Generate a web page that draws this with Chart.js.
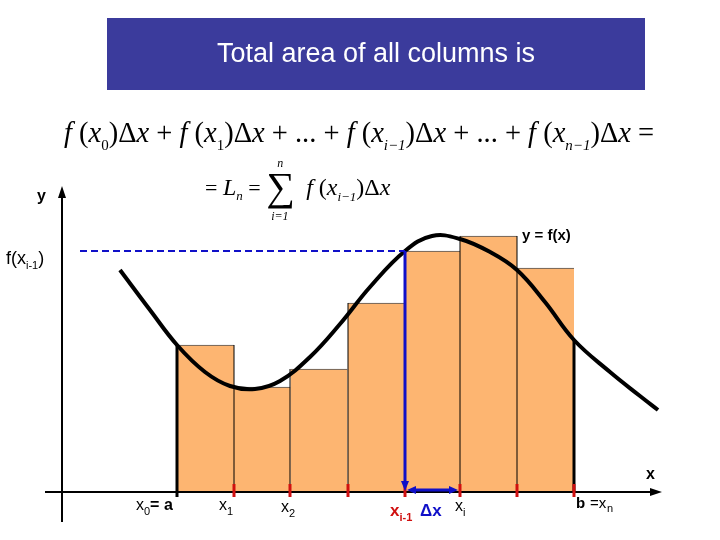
<!DOCTYPE html><html><head><style>html,body{margin:0;padding:0;background:#fff}#c{display:block}</style>
<script src="https://cdn.jsdelivr.net/npm/chart.js@4"></script></head><body>
<div style="width:720px;height:540px"><canvas id="c" width="720" height="540"></canvas></div>
<script>
// partition points x0..x7 (in horizontal units), bar heights f(x_{i-1})
const partition = [177, 234, 290, 348, 405, 460, 517, 574];
const barHeights = [147, 105, 123, 189, 241, 256, 224];
const curveX = [120, 150, 177, 205, 230, 255, 280, 310, 340, 370, 405, 432, 460, 490, 517, 545, 574, 610, 640, 658];
const curveY = [222, 182, 147, 120, 106, 103, 111, 135, 168, 205, 241, 256, 253, 240, 222, 190, 152, 120, 96, 82];
const BASE = 492;
const barData = barHeights.map((h,i)=>({x:(partition[i]+partition[i+1])/2,y:h}));
const curveData = curveX.map((x,i)=>({x:x,y:curveY[i]}));
const deco = {id:'deco',
 beforeDatasetsDraw(ch){const c=ch.ctx;
  c.save();c.fillStyle='#3b3b9c';c.fillRect(107,18,538,72);
  c.fillStyle='#fff';c.font='27px "Liberation Sans",Arial';c.textAlign='center';c.textBaseline='middle';
  c.fillText('Total area of all columns is',376,55);c.restore();
 },
 afterDatasetsDraw(ch){const c=ch.ctx,xs=ch.scales.x,ys=ch.scales.y;
  const X=v=>xs.getPixelForValue(v),Y=v=>ys.getPixelForValue(v);
  c.save();
  c.strokeStyle='#000';c.lineWidth=1;
  for(let i=1;i<partition.length-1;i++){c.beginPath();c.moveTo(X(partition[i]),Y(0));c.lineTo(X(partition[i]),Y(Math.max(barHeights[i-1],barHeights[i])));c.stroke();}
  c.lineWidth=3;
  c.beginPath();c.moveTo(X(partition[0]),Y(0)+5);c.lineTo(X(partition[0]),Y(barHeights[0]));c.stroke();
  c.beginPath();c.moveTo(X(partition[7]),Y(0));c.lineTo(X(partition[7]),Y(152));c.stroke();
  c.lineWidth=2;
  c.beginPath();c.moveTo(45,Y(0));c.lineTo(655,Y(0));c.stroke();
  c.beginPath();c.moveTo(62,522);c.lineTo(62,195);c.stroke();
  c.fillStyle='#000';
  c.beginPath();c.moveTo(662,Y(0));c.lineTo(650,Y(0)-4);c.lineTo(650,Y(0)+4);c.fill();
  c.beginPath();c.moveTo(62,186);c.lineTo(58,198);c.lineTo(66,198);c.fill();
  c.strokeStyle='#d01010';c.lineWidth=3;
  for(let i=1;i<partition.length;i++){c.beginPath();c.moveTo(X(partition[i]),Y(0)-8);c.lineTo(X(partition[i]),Y(0)+5);c.stroke();}
  const xi=X(partition[4]),fy=Y(barHeights[4]);
  c.strokeStyle='#1010c8';c.lineWidth=2;c.setLineDash([7,4]);
  c.beginPath();c.moveTo(80,fy);c.lineTo(xi,fy);c.stroke();c.setLineDash([]);
  c.lineWidth=3;c.beginPath();c.moveTo(xi,fy);c.lineTo(xi,Y(0)-8);c.stroke();
  c.fillStyle='#1010c8';c.beginPath();c.moveTo(xi,Y(0)-1);c.lineTo(xi-4,Y(0)-11);c.lineTo(xi+4,Y(0)-11);c.fill();
  c.beginPath();c.moveTo(xi+8,Y(0)-2);c.lineTo(X(partition[5])-8,Y(0)-2);c.stroke();
  c.beginPath();c.moveTo(xi+2,Y(0)-2);c.lineTo(xi+11,Y(0)-6);c.lineTo(xi+11,Y(0)+2);c.fill();
  const x5=X(partition[5]);c.beginPath();c.moveTo(x5-2,Y(0)-2);c.lineTo(x5-11,Y(0)-6);c.lineTo(x5-11,Y(0)+2);c.fill();
  c.fillStyle='#000';c.textBaseline='alphabetic';c.textAlign='left';
  c.font='bold 16px "Liberation Sans",Arial';
  c.fillText('y',37,201);c.fillText('x',646,479);
  c.font='bold 15px "Liberation Sans",Arial';c.fillText('y = f(x)',522,240);
  const sub=(main,s,x,y,bold,col,size,after)=>{c.fillStyle=col;c.font=(bold?'bold ':'')+(size||16)+'px "Liberation Sans",Arial';c.fillText(main,x,y);const w=c.measureText(main).width;c.font=(bold?'bold ':'')+'11px "Liberation Sans",Arial';c.fillText(s,x+w,y+5);let e=x+w+c.measureText(s).width;if(after){c.font=(bold?'bold ':'')+(size||16)+'px "Liberation Sans",Arial';c.fillText(after,e,y);}return e;};
  sub('f(x','i-1',6,264,false,'#000',18,')');
  let e=sub('x','0',136,510,false,'#000');c.font='bold 16px "Liberation Sans",Arial';c.fillText('= a',e,510);
  sub('x','1',219,510,false,'#000');sub('x','2',281,512,false,'#000');
  sub('x','i-1',390,516,true,'#d01010',17);
  c.fillStyle='#1010c8';c.font='bold 17px "Liberation Sans",Arial';c.fillText('\u0394x',420,516);
  sub('x','i',455,511,false,'#000');
  c.fillStyle='#000';c.font='bold 15px "Liberation Sans",Arial';c.fillText('b',576,508);
  c.font='15px "Liberation Sans",Arial';c.fillText('=x',590,508);c.font='11px "Liberation Sans",Arial';c.fillText('n',607,512);
  const T=(t,x,y,sz,it)=>{c.font=(it?'italic ':'')+sz+'px "Liberation Serif","Times New Roman",serif';c.fillText(t,x,y);return x+c.measureText(t).width;};
  let p=64;const L1=[['f',1],[' (',0],['x',1],['0',2],[')\u0394',0],['x',1],[' + ',0],['f',1],[' (',0],['x',1],['1',2],[')\u0394',0],['x',1],[' + ... + ',0],['f',1],[' (',0],['x',1],['i\u22121',3],[')\u0394',0],['x',1],[' + ... + ',0],['f',1],[' (',0],['x',1],['n\u22121',3],[')\u0394',0],['x',1],[' =',0]];
  for(const [t,k] of L1){if(k>=2)p=T(t,p,150,15,k==3);else p=T(t,p,142,28.5,k==1);}
  p=205;p=T('= ',p,195,22,0);p=T('L',p,195,24,1);p=T('n',p,200,13,1);p=T(' = ',p,195,22,0);
  T('\u2211',p,200,40,0);T('n',p+11,167,12,1);T('i=1',p+5,220,12,1);p+=40;
  p=T('f',p,195,24,1);p=T(' (',p,195,24,0);p=T('x',p,195,24,1);p=T('i\u22121',p,201,13,1);p=T(')\u0394',p,195,24,0);T('x',p,195,24,1);
  c.restore();}};
new Chart(document.getElementById('c'),{
 data:{datasets:[
  {type:'line',data:curveData,borderColor:'#000',borderWidth:4,pointRadius:0,tension:0.4,fill:false},
  {type:'bar',data:barData,backgroundColor:'#fdb571',borderColor:'#555',borderWidth:{top:1,left:0,right:0,bottom:0},barThickness:57,borderSkipped:'bottom'}
 ]},
 options:{responsive:false,animation:false,events:[],layout:{padding:0},
  plugins:{legend:{display:false},tooltip:{enabled:false}},
  scales:{x:{type:'linear',offset:false,min:0,max:720,display:false},y:{min:BASE-540,max:BASE,display:false}}},
 plugins:[deco]});
</script></body></html>
